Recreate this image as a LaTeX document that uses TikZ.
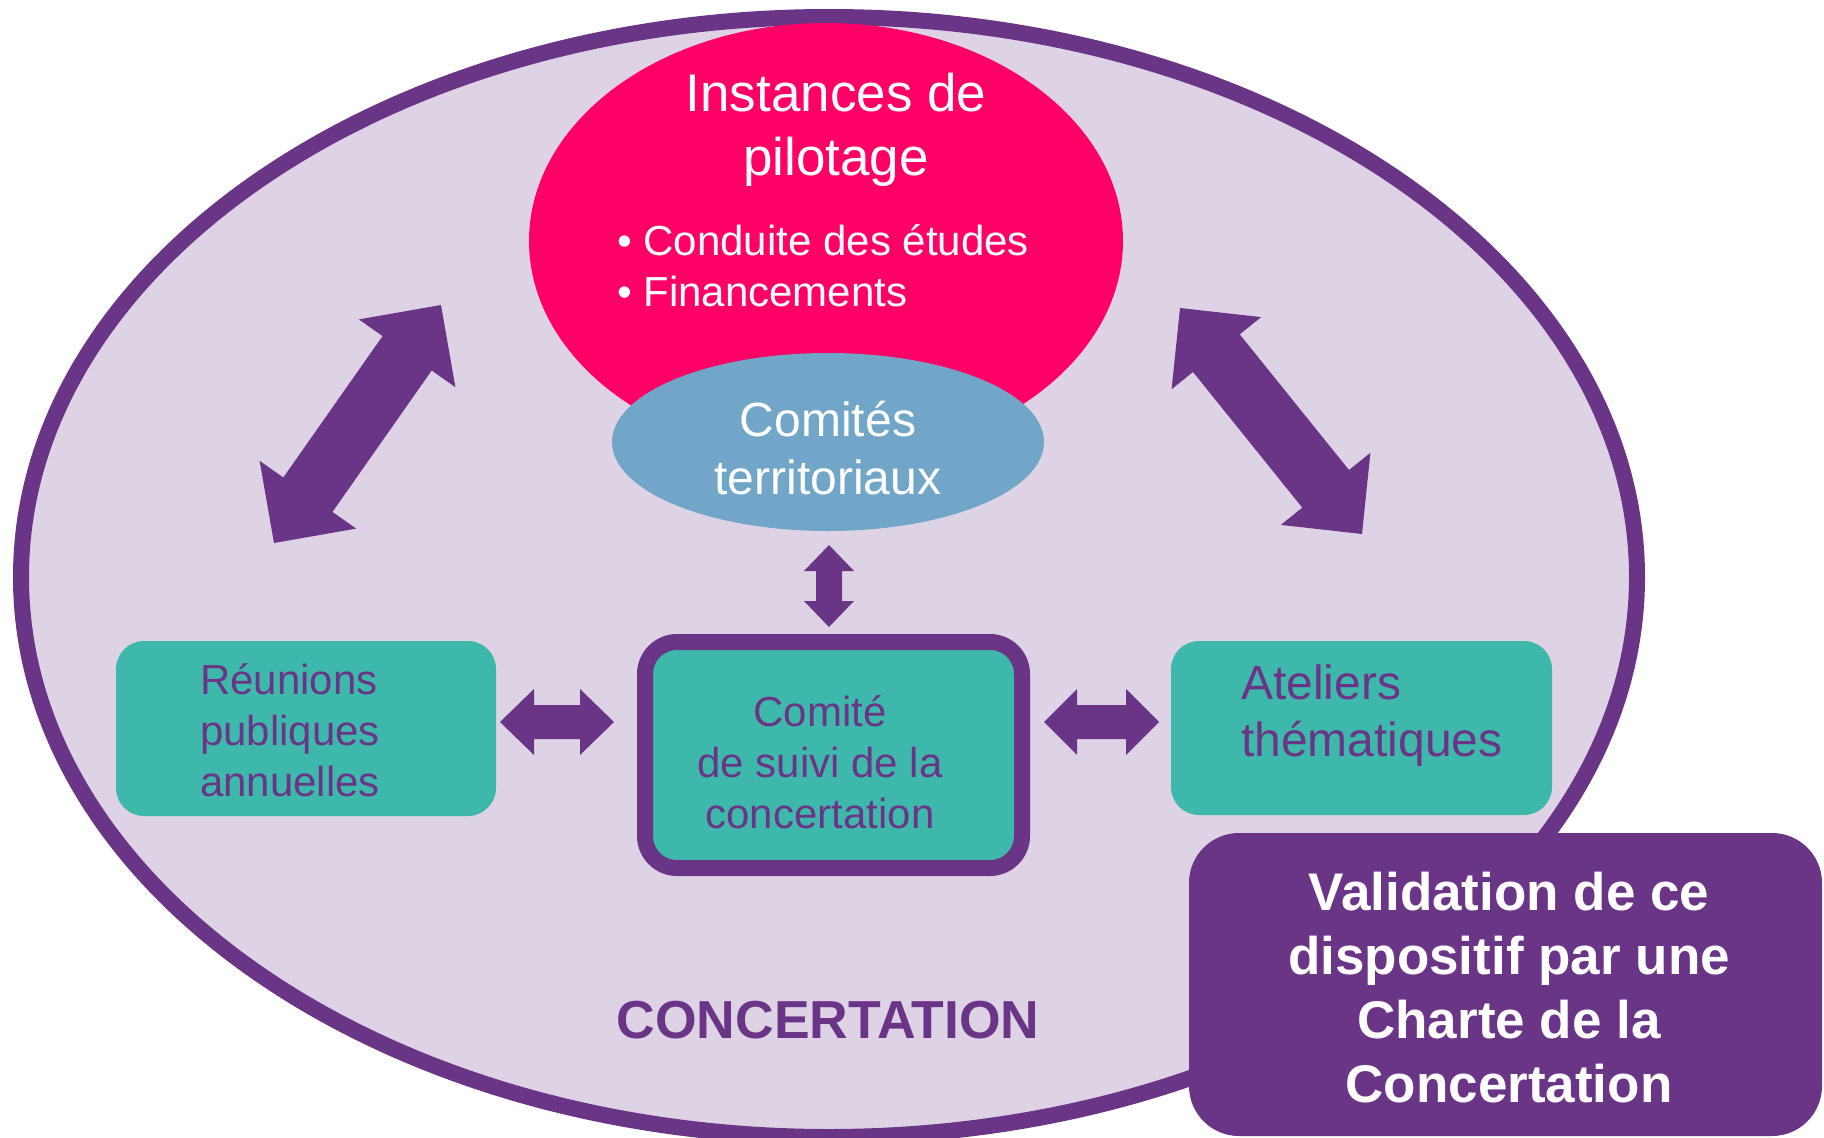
\documentclass[tikz,border=0pt]{standalone}
\usepackage{fontspec}
\setmainfont{Liberation Sans}
\usetikzlibrary{calc,shapes.geometric}
\definecolor{clav}{HTML}{DED3E5}
\definecolor{cpurp}{HTML}{6A3587}
\definecolor{cpink}{HTML}{FF0066}
\definecolor{csky}{HTML}{72A6C8}
\definecolor{cteal}{HTML}{3FB8AC}
\newcommand\blockarrow[5]{%
  \coordinate (ba) at ($(#1)!#3!(#2)$);
  \coordinate (bb) at ($(#2)!#3!(#1)$);
  \fill[cpurp] (#1) -- ($(ba)!#4!90:(#2)$) -- ($(ba)!#5!90:(#2)$)
    -- ($(bb)!#5!-90:(#1)$) -- ($(bb)!#4!-90:(#1)$) -- (#2)
    -- ($(bb)!#4!90:(#1)$) -- ($(bb)!#5!90:(#1)$)
    -- ($(ba)!#5!-90:(#2)$) -- ($(ba)!#4!-90:(#2)$) -- cycle;}
\begin{document}
\begin{tikzpicture}[x=1pt,y=-1pt,
  wtxt/.style={inner sep=0pt, text=white},
  ptxt/.style={inner sep=0pt, text=cpurp},
  tealbox/.style={rectangle, fill=cteal, rounded corners=28pt, inner sep=0pt}]
\fill[white] (0,0) rectangle (1824,1138);
\useasboundingbox (0,0) rectangle (1824,1138);
% outer ellipse
\node[ellipse, fill=clav, draw=cpurp, line width=16pt, minimum width=1616pt, minimum height=1120pt, inner sep=0pt] (concert) at (829,577) {};
% pilotage
\node[ellipse, fill=cpink, minimum width=594pt, minimum height=436pt, inner sep=0pt] (pilot) at (826,241) {};
\node[wtxt, font=\fontsize{53}{64}\selectfont, align=center] (pilottxt) at (836,130) {Instances de\\pilotage};
\node[wtxt, font=\fontsize{42}{51}\selectfont, align=left, anchor=west] (pilotlist) at (617,266) {• Conduite des études\\• Financements};
% comites territoriaux
\node[ellipse, fill=csky, minimum width=432pt, minimum height=178pt, inner sep=0pt] (terr) at (828,442) {};
\node[wtxt, font=\fontsize{48}{58}\selectfont, align=center] (terrtxt) at (828,448) {Comités\\territoriaux};
% boxes
\node[tealbox, minimum width=380pt, minimum height=175pt] (reun) at (306,728.5) {};
\node[ptxt, font=\fontsize{42}{51}\selectfont, align=left, anchor=west] (reuntxt) at (200,730) {Réunions\\publiques\\annuelles};
\node[tealbox, draw=cpurp, line width=16pt, rounded corners=32pt, minimum width=377pt, minimum height=226pt] (suivi) at (833.5,755) {};
\node[ptxt, font=\fontsize{42}{51}\selectfont, align=center] (suivitxt) at (820,762) {Comité\\de suivi de la\\concertation};
\node[tealbox, minimum width=381pt, minimum height=174pt] (atel) at (1361.5,728) {};
\node[ptxt, font=\fontsize{48}{57}\selectfont, align=left, anchor=west] (ateltxt) at (1241,716) {Ateliers\\thématiques};
% validation
\node[rectangle, fill=cpurp, rounded corners=50pt, minimum width=633pt, minimum height=303pt, inner sep=0pt] (valid) at (1505.5,984.5) {};
\node[wtxt, font=\bfseries\fontsize{53}{64}\selectfont, align=center] (validtxt) at (1509,988) {Validation de ce\\dispositif par une\\Charte de la\\Concertation};
% label
\node[ptxt, font=\bfseries\fontsize{53.5}{64}\selectfont] (concerttxt) at (828,1020) {CONCERTATION};
% arrows
\coordinate (la1) at (441,305); \coordinate (la2) at (274,543);
\coordinate (ra1) at (1180,308); \coordinate (ra2) at (1362,534);
\coordinate (va1) at (829,545); \coordinate (va2) at (829,627);
\coordinate (ha1) at (500,722); \coordinate (ha2) at (614,722);
\coordinate (hb1) at (1044,722); \coordinate (hb2) at (1159,722);
\blockarrow{la1}{la2}{59pt}{59pt}{30pt}
\blockarrow{ra1}{ra2}{58pt}{57.5pt}{30pt}
\blockarrow{va1}{va2}{26pt}{25pt}{13pt}
\blockarrow{ha1}{ha2}{34pt}{33pt}{17pt}
\blockarrow{hb1}{hb2}{33pt}{33pt}{17pt}
\end{tikzpicture}
\end{document}
